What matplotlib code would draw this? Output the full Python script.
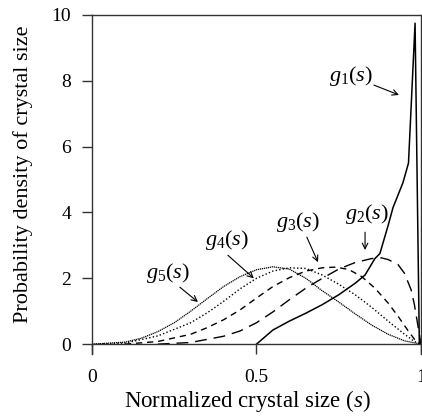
'''
Probability density of crystal size, five curves g1..g5
'''

import matplotlib as mpl
mpl.use('Agg')
import matplotlib.pyplot as plt
import numpy as np

mpl.rcParams.update({'font.family': 'Liberation Serif',
                     'mathtext.fontset': 'custom',
                     'mathtext.rm': 'Liberation Serif',
                     'mathtext.it': 'Liberation Serif:italic'})

# data
s1 = [0.5, 0.55, 0.6, 0.65, 0.7, 0.75, 0.8, 0.83, 0.86, 0.875, 0.9, 0.915, 0.945, 0.962, 0.982, 0.995]
g1 = [0.0, 0.43, 0.7, 0.94, 1.2, 1.5, 1.85, 2.1, 2.6, 2.75, 3.6, 4.15, 4.9, 5.5, 9.75, 0.0]

s2 = [0.2, 0.3, 0.4, 0.45, 0.5, 0.55, 0.6, 0.65, 0.7, 0.75, 0.8, 0.85, 0.88, 0.9, 0.93, 0.95, 0.97, 0.98, 0.99, 1.0]
g2 = [0.0, 0.05, 0.24, 0.4, 0.65, 0.98, 1.35, 1.7, 2.0, 2.28, 2.48, 2.6, 2.62, 2.57, 2.42, 2.15, 1.65, 1.2, 0.6, 0.0]

s3 = [0.1, 0.2, 0.3, 0.35, 0.4, 0.45, 0.5, 0.55, 0.6, 0.65, 0.7, 0.74, 0.78, 0.82, 0.86, 0.9, 0.93, 0.96, 0.98, 1.0]
g3 = [0.0, 0.08, 0.3, 0.5, 0.74, 1.04, 1.4, 1.75, 2.02, 2.22, 2.32, 2.34, 2.27, 2.05, 1.7, 1.25, 0.85, 0.42, 0.15, 0.0]

s4 = [0.0, 0.1, 0.2, 0.3, 0.35, 0.4, 0.45, 0.5, 0.55, 0.6, 0.65, 0.7, 0.75, 0.8, 0.85, 0.9, 0.95, 0.98, 1.0]
g4 = [0.0, 0.03, 0.25, 0.65, 0.95, 1.3, 1.68, 2.0, 2.22, 2.32, 2.3, 2.1, 1.82, 1.5, 1.12, 0.7, 0.3, 0.08, 0.0]

s5 = [0.0, 0.1, 0.15, 0.2, 0.25, 0.3, 0.35, 0.4, 0.45, 0.5, 0.55, 0.6, 0.65, 0.7, 0.75, 0.8, 0.85, 0.9, 0.95, 1.0]
g5 = [0.0, 0.06, 0.18, 0.38, 0.65, 1.0, 1.38, 1.75, 2.05, 2.26, 2.35, 2.28, 2.0, 1.62, 1.28, 0.92, 0.58, 0.3, 0.1, 0.0]

labels = [r'$g_1(s)$', r'$g_2(s)$', r'$g_3(s)$', r'$g_4(s)$', r'$g_5(s)$']

# figure and axes placed by hand
fig = plt.figure(figsize=(4.22, 4.16), dpi=100)
ax = fig.add_axes([0.218, 0.149, 0.7796, 0.815])

ax.plot(s1, g1, color='k', lw=1.1)
ax.plot(s2, g2, color='k', lw=1.0, dashes=(8.5, 5))
ax.plot(s3, g3, color='k', lw=1.0, dashes=(4.5, 3.5))
ax.plot(s4, g4, color='k', lw=1.0, dashes=(1, 1.6))
ax.plot(s5, g5, color='k', lw=0.9, dashes=(1, 0.6))

# labels with arrows (text pos, arrow start, arrow end)
notes = [((0.787, 8.15), (0.857, 7.87), (0.933, 7.57)),
         ((0.836, 3.95), (0.830, 3.40), (0.830, 2.86)),
         ((0.626, 3.71), (0.653, 3.25), (0.687, 2.49)),
         ((0.410, 3.16), (0.413, 2.70), (0.492, 2.00)),
         ((0.231, 2.16), (0.267, 1.73), (0.322, 1.28))]
for lab, (tp, a0, a1) in zip(labels, notes):
    ax.text(tp[0], tp[1], lab, fontsize=16, ha='center', va='center')
    ax.annotate('', xy=a1, xytext=a0,
                arrowprops=dict(arrowstyle='->', lw=0.8, color='k',
                                shrinkA=0, shrinkB=0, mutation_scale=10))

# axes styling
ax.set_xlim(0, 1)
ax.set_ylim(-0.3, 10)
ax.spines['bottom'].set_position(('data', 0))
for sp in ax.spines.values():
    sp.set_color('#333333')
    sp.set_linewidth(1.0)
ax.set_xticks([0, 0.5, 1])
ax.set_xticklabels(['0', '0.5', '1'])
ax.set_yticks([0, 2, 4, 6, 8, 10])
ax.tick_params(direction='out', length=7.2, width=1.0, color='#333333', labelsize=14)
ax.tick_params(axis='x', pad=11)
ax.tick_params(axis='y', pad=8)

ax.set_xlabel(r'Normalized crystal size ($s$)', fontsize=16.5)
ax.set_ylabel('Probability density of crystal size', fontsize=16)
ax.xaxis.set_label_coords(0.473, -0.10)
ax.yaxis.set_label_coords(-0.18, 0.53)

plt.savefig('out.png', dpi=100)
